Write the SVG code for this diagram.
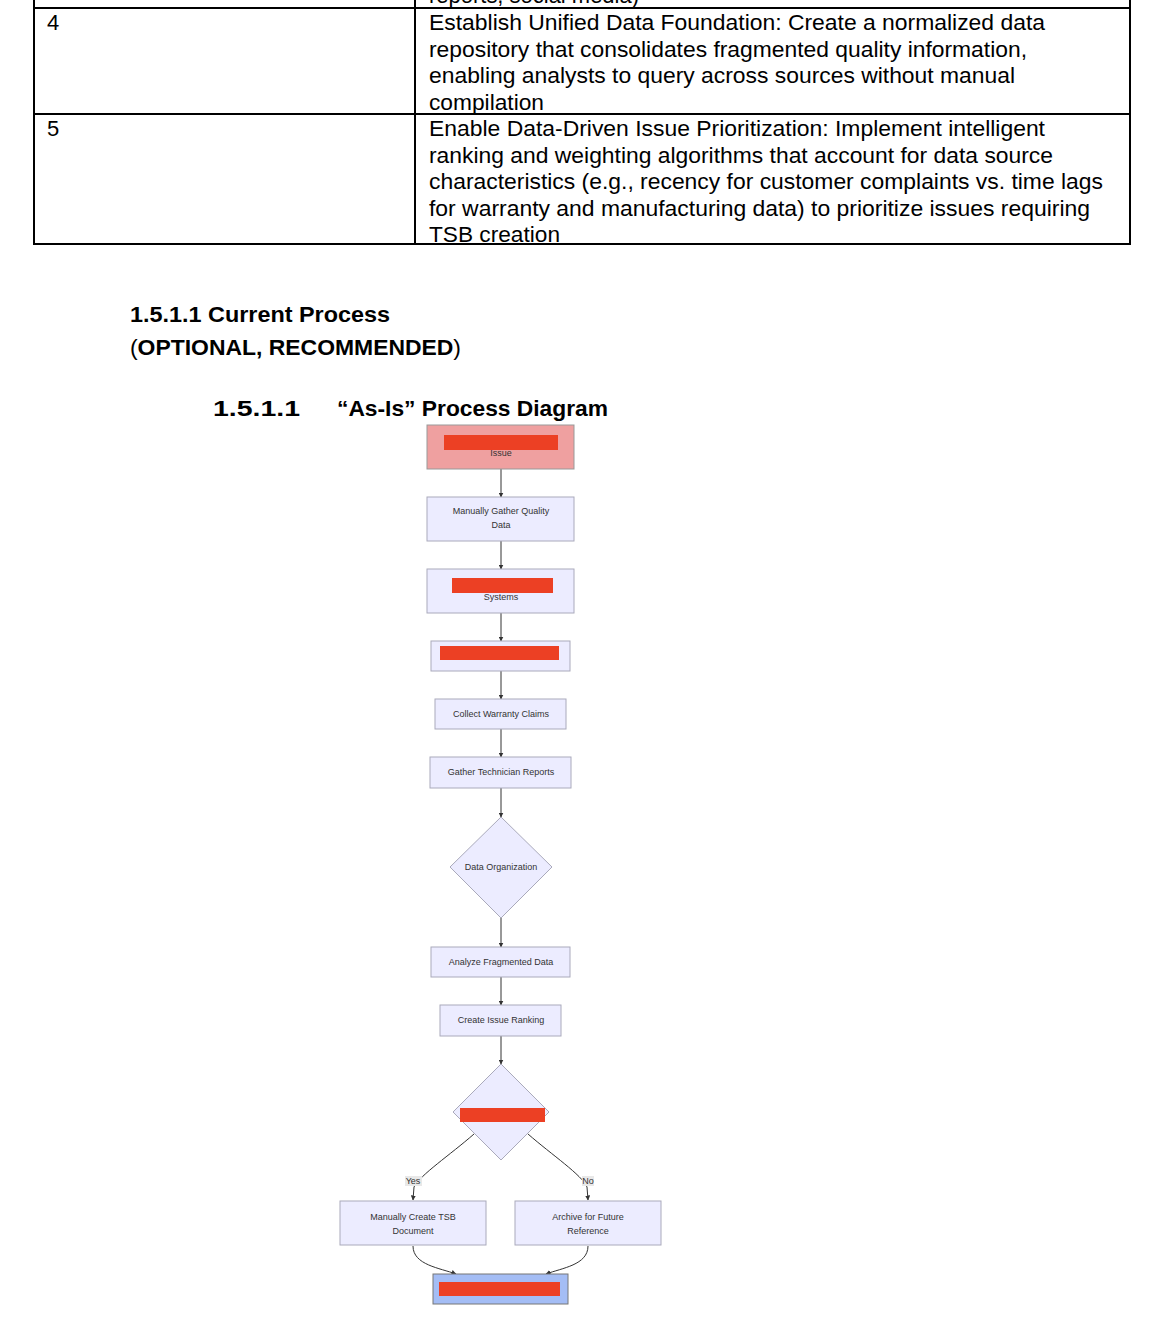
<svg xmlns="http://www.w3.org/2000/svg" width="1170" height="1322" viewBox="0 0 1170 1322">
<style>
.doc{font-family:"Liberation Sans",Arial,sans-serif;font-size:22px;fill:#000}
.h{font-family:"Liberation Sans",Arial,sans-serif;font-weight:bold;font-size:22px;fill:#000}
.nt{font-family:"Liberation Sans",Arial,sans-serif;font-size:9px;fill:#333;text-anchor:middle}
.node{fill:#ececff;stroke:#aaaabb;stroke-width:1}
.edge{fill:none;stroke:#333;stroke-width:1}
.red{fill:#ec4024}
.lbl{fill:#e8e8e8}
</style>
<defs>
<marker id="arr" viewBox="0 0 10 10" refX="9" refY="5" markerWidth="5" markerHeight="5" orient="auto">
<path d="M0,0 L10,5 L0,10 z" fill="#333"/>
</marker>
</defs>
<rect width="1170" height="1322" fill="#fff"/>

<g id="table">
<text class="doc" x="429" y="3" textLength="210" lengthAdjust="spacingAndGlyphs">reports, social media)</text>
<line x1="34" y1="0" x2="34" y2="245" stroke="#000" stroke-width="2"/>
<line x1="1130" y1="0" x2="1130" y2="245" stroke="#000" stroke-width="2"/>
<line x1="415" y1="0" x2="415" y2="245" stroke="#000" stroke-width="2"/>
<line x1="34" y1="8" x2="1130" y2="8" stroke="#000" stroke-width="2"/>
<line x1="34" y1="114" x2="1130" y2="114" stroke="#000" stroke-width="2"/>
<line x1="33" y1="244" x2="1131" y2="244" stroke="#000" stroke-width="2"/>
<text class="doc" x="47" y="30">4</text>
<text class="doc" x="429" y="30" textLength="616" lengthAdjust="spacingAndGlyphs">Establish Unified Data Foundation: Create a normalized data</text>
<text class="doc" x="429" y="57" textLength="598" lengthAdjust="spacingAndGlyphs">repository that consolidates fragmented quality information,</text>
<text class="doc" x="429" y="83" textLength="586" lengthAdjust="spacingAndGlyphs">enabling analysts to query across sources without manual</text>
<text class="doc" x="429" y="110" textLength="115" lengthAdjust="spacingAndGlyphs">compilation</text>
<text class="doc" x="47" y="136">5</text>
<text class="doc" x="429" y="136" textLength="616" lengthAdjust="spacingAndGlyphs">Enable Data-Driven Issue Prioritization: Implement intelligent</text>
<text class="doc" x="429" y="163" textLength="624" lengthAdjust="spacingAndGlyphs">ranking and weighting algorithms that account for data source</text>
<text class="doc" x="429" y="189" textLength="674" lengthAdjust="spacingAndGlyphs">characteristics (e.g., recency for customer complaints vs. time lags</text>
<text class="doc" x="429" y="216" textLength="661" lengthAdjust="spacingAndGlyphs">for warranty and manufacturing data) to prioritize issues requiring</text>
<text class="doc" x="429" y="242" textLength="131" lengthAdjust="spacingAndGlyphs">TSB creation</text>
</g>

<g id="headings">
<text class="h" x="130" y="322" textLength="260" lengthAdjust="spacingAndGlyphs">1.5.1.1  Current Process</text>
<text class="h" x="130" y="355" textLength="331" lengthAdjust="spacingAndGlyphs"><tspan font-weight="normal">(</tspan>OPTIONAL, RECOMMENDED<tspan font-weight="normal">)</tspan></text>
<text class="h" x="213" y="416" textLength="87" lengthAdjust="spacingAndGlyphs">1.5.1.1</text>
<text class="h" x="337" y="416" textLength="271" lengthAdjust="spacingAndGlyphs">“As-Is” Process Diagram</text>
</g>

<g id="connectors">
<line class="edge" x1="501" y1="469" x2="501" y2="497" marker-end="url(#arr)"/>
<line class="edge" x1="501" y1="541" x2="501" y2="569" marker-end="url(#arr)"/>
<line class="edge" x1="501" y1="613" x2="501" y2="641" marker-end="url(#arr)"/>
<line class="edge" x1="501" y1="671" x2="501" y2="699" marker-end="url(#arr)"/>
<line class="edge" x1="501" y1="729" x2="501" y2="757" marker-end="url(#arr)"/>
<line class="edge" x1="501" y1="788" x2="501" y2="817" marker-end="url(#arr)"/>
<line class="edge" x1="501" y1="918" x2="501" y2="947" marker-end="url(#arr)"/>
<line class="edge" x1="501" y1="977" x2="501" y2="1005" marker-end="url(#arr)"/>
<line class="edge" x1="501" y1="1036" x2="501" y2="1064" marker-end="url(#arr)"/>
<path class="edge" d="M474,1134 C450,1155 420,1175 414,1187 L413,1200" marker-end="url(#arr)"/>
<path class="edge" d="M528,1134 C552,1155 582,1175 587,1187 L588,1200" marker-end="url(#arr)"/>
<path class="edge" d="M413,1246 C413,1265 440,1268 456,1274" marker-end="url(#arr)"/>
<path class="edge" d="M588,1246 C588,1265 562,1268 546,1274" marker-end="url(#arr)"/>
<rect class="lbl" x="405" y="1176" width="17" height="10"/>
<text class="nt" x="413" y="1184">Yes</text>
<rect class="lbl" x="582" y="1176" width="12" height="10"/>
<text class="nt" x="588" y="1184">No</text>
</g>

<g id="n-issue">
<rect x="427" y="425" width="147" height="44" fill="#efa0a0" stroke="#999" stroke-width="1"/>
<rect class="red" x="444" y="435" width="114" height="15"/>
<text class="nt" x="501" y="456">Issue</text>
</g>
<g id="n-gather">
<rect class="node" x="427" y="497" width="147" height="44"/>
<text class="nt" x="501" y="514">Manually Gather Quality</text>
<text class="nt" x="501" y="528">Data</text>
</g>
<g id="n-systems">
<rect class="node" x="427" y="569" width="147" height="44"/>
<rect class="red" x="452" y="578" width="101" height="15"/>
<text class="nt" x="501" y="600">Systems</text>
</g>
<g id="n-hidden">
<rect class="node" x="431" y="641" width="139" height="30"/>
<rect class="red" x="440" y="646" width="119" height="14"/>
</g>
<g id="n-warranty">
<rect class="node" x="435" y="699" width="131" height="30"/>
<text class="nt" x="501" y="717">Collect Warranty Claims</text>
</g>
<g id="n-tech">
<rect class="node" x="430" y="757" width="141" height="31"/>
<text class="nt" x="501" y="775">Gather Technician Reports</text>
</g>
<g id="n-org">
<polygon class="node" points="501,817 552,867 501,918 450,867"/>
<text class="nt" x="501" y="870">Data Organization</text>
</g>
<g id="n-analyze">
<rect class="node" x="431" y="947" width="139" height="30"/>
<text class="nt" x="501" y="965">Analyze Fragmented Data</text>
</g>
<g id="n-rank">
<rect class="node" x="440" y="1005" width="121" height="31"/>
<text class="nt" x="501" y="1023">Create Issue Ranking</text>
</g>
<g id="n-decision">
<polygon class="node" points="501,1064 549,1112 501,1160 453,1112"/>
<rect class="red" x="460" y="1108" width="85" height="14"/>
</g>
<g id="n-tsb">
<rect class="node" x="340" y="1201" width="146" height="44"/>
<text class="nt" x="413" y="1220">Manually Create TSB</text>
<text class="nt" x="413" y="1234">Document</text>
</g>
<g id="n-archive">
<rect class="node" x="515" y="1201" width="146" height="44"/>
<text class="nt" x="588" y="1220">Archive for Future</text>
<text class="nt" x="588" y="1234">Reference</text>
</g>
<g id="n-end">
<rect x="433" y="1274" width="135" height="30" fill="#a4bdf5" stroke="#777" stroke-width="1"/>
<rect class="red" x="439" y="1282" width="121" height="14"/>
</g>
</svg>
